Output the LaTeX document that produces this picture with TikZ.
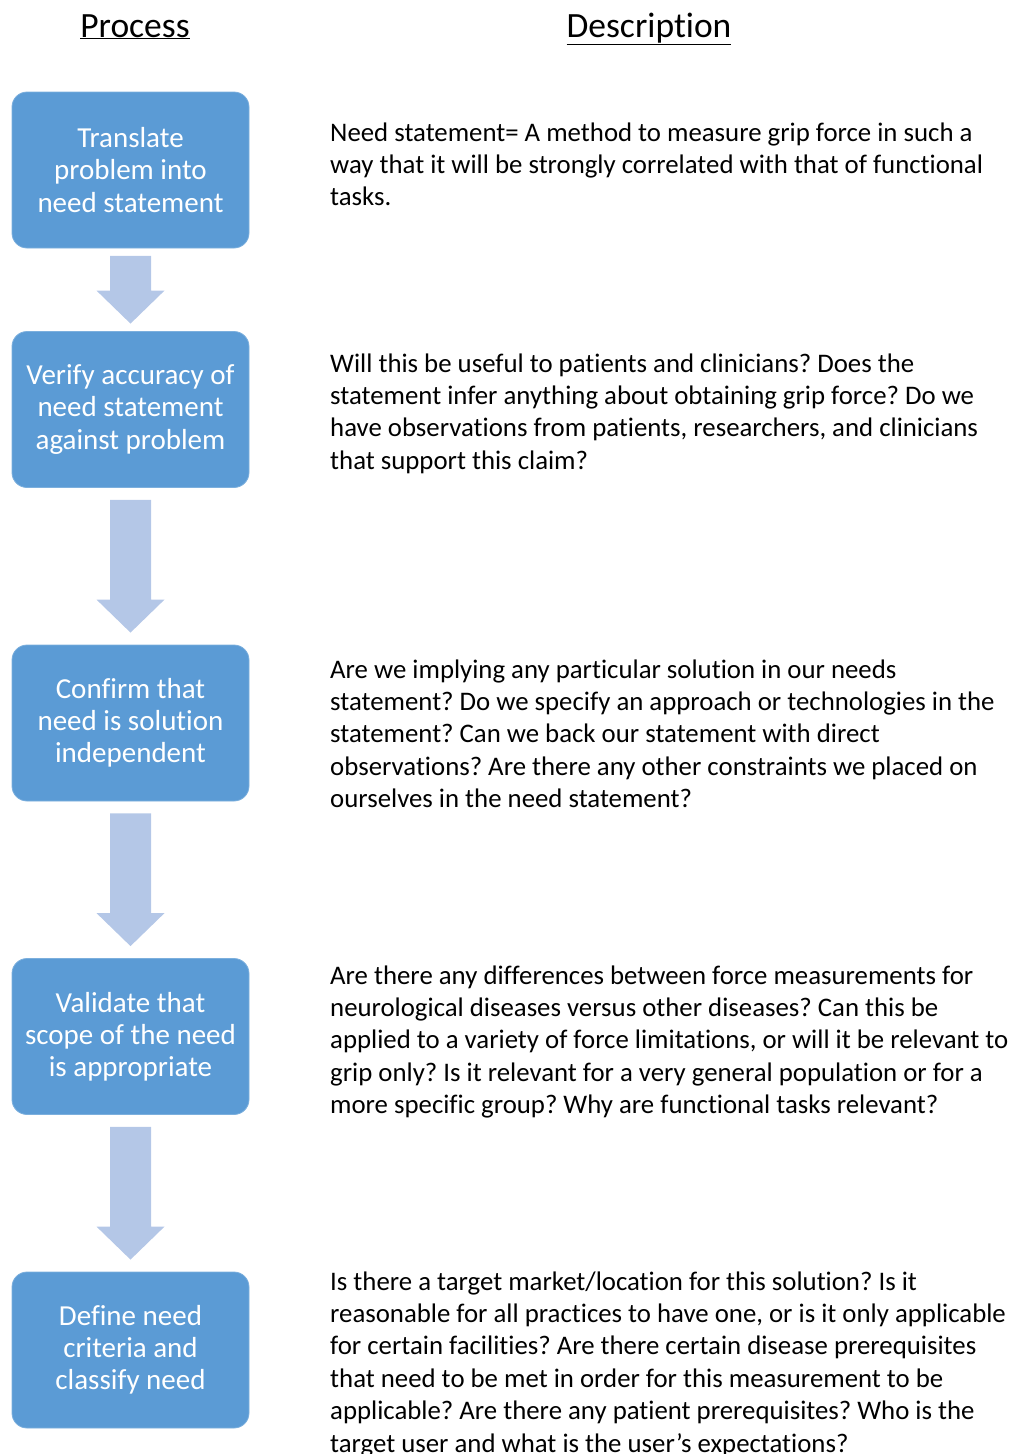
\documentclass[tikz,border=0pt]{standalone}
\usepackage{fontspec}
\setmainfont[Ligatures=NoCommon]{Carlito}
\usetikzlibrary{calc}
\definecolor{boxblue}{HTML}{5B9BD5}
\definecolor{arrowblue}{HTML}{B4C7E7}
\tikzset{
  stepbox/.style={rectangle, rounded corners=15pt, fill=boxblue, draw=boxblue!80!white, line width=0.8pt,
    minimum width=237pt, minimum height=156pt, inner sep=0pt, align=center, text=white,
    font=\fontsize{29}{32.2}\selectfont},
  desc/.style={anchor=base west, inner sep=0pt, font=\fontsize{26.8}{32.4}\selectfont},
  heading/.style={anchor=base, inner sep=0pt, font=\fontsize{35.5}{40}\selectfont},
  arrowfill/.style={fill=arrowblue}
}
\newcommand\flowarrow[3]{%
  \fill[arrowfill] let \p1=($(#1.south)+(0,-#3 pt)$), \p2=($(#2.north)+(0,#3 pt)$) in
  (\x1-20.5pt,\y1) -- (\x1+20.5pt,\y1) -- (\x1+20.5pt,\y2+33pt) -- (\x1+34pt,\y2+33pt) --
  (\x1,\y2) -- (\x1-34pt,\y2+33pt) -- (\x1-20.5pt,\y2+33pt) -- cycle;}
\newcommand\desctext[1]{\parbox[t]{720pt}{\raggedright\frenchspacing #1}}
\begin{document}
\begin{tikzpicture}[x=1pt,y=-1pt]
\useasboundingbox (0,0) rectangle (1016,1454);
\node[heading] (hp) at (135,37) {\underline{Process}};
\node[heading] (hd) at (649,37) {\underline{Description}};

\node[stepbox] (b1) at (130.5,170) {Translate\\problem into\\need statement};
\node[stepbox] (b2) at (130.5,409.5) {Verify accuracy of\\need statement\\against problem};
\node[stepbox] (b3) at (130.5,723) {Confirm that\\need is solution\\independent};
\node[stepbox] (b4) at (130.5,1036.5) {Validate that\\scope of the need\\is appropriate};
\node[stepbox] (b5) at (130.5,1350) {Define need\\criteria and\\classify need};

\flowarrow{b1}{b2}{7.5}
\flowarrow{b2}{b3}{12}
\flowarrow{b3}{b4}{12}
\flowarrow{b4}{b5}{12}

\node[desc] (d1) at (330,141) {\desctext{Need statement= A method to measure grip force in such a\\
way that it will be strongly correlated with that of functional\\
tasks.}};
\node[desc] (d2) at (330,372) {\desctext{Will this be useful to patients and clinicians? Does the\\
statement infer anything about obtaining grip force? Do we\\
have observations from patients, researchers, and clinicians\\
that support this claim?}};
\node[desc] (d3) at (330,678) {\desctext{Are we implying any particular solution in our needs\\
statement? Do we specify an approach or technologies in the\\
statement? Can we back our statement with direct\\
observations? Are there any other constraints we placed on\\
ourselves in the need statement?}};
\node[desc] (d4) at (330,984) {\desctext{Are there any differences between force measurements for\\
neurological diseases versus other diseases? Can this be\\
applied to a variety of force limitations, or will it be relevant to\\
grip only? Is it relevant for a very general population or for a\\
more specific group? Why are functional tasks relevant?}};
\node[desc] (d5) at (330,1290) {\desctext{Is there a target market/location for this solution? Is it\\
reasonable for all practices to have one, or is it only applicable\\
for certain facilities? Are there certain disease prerequisites\\
that need to be met in order for this measurement to be\\
applicable? Are there any patient prerequisites? Who is the\\
target user and what is the user’s expectations?}};
\end{tikzpicture}
\end{document}
